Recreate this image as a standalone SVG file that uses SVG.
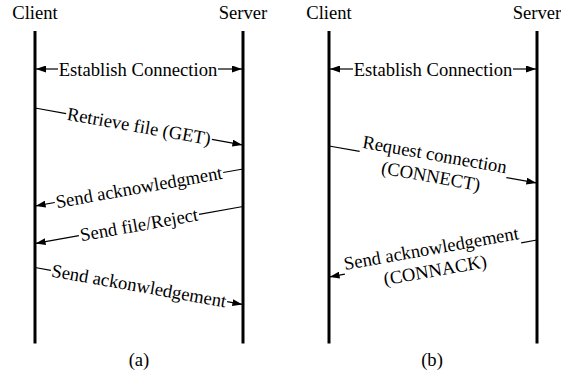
<svg xmlns="http://www.w3.org/2000/svg" width="561" height="377" viewBox="0 0 561 377" font-family="'Liberation Serif', 'DejaVu Serif', serif">
<style>
text{font-family:'Liberation Serif','DejaVu Serif',serif;font-size:18.6px;fill:#000;text-anchor:middle}
.life{stroke:#000;stroke-width:3;fill:none}
.msg{stroke:#000;stroke-width:1.2;fill:none}
.arr{marker-end:url(#ah)}
</style>
<defs>
<marker id="ah" markerUnits="userSpaceOnUse" markerWidth="10" markerHeight="7" refX="10" refY="3.5" orient="auto">
<path d="M0,0 L10,3.5 L0,7 z" fill="#000"/>
</marker>
</defs>
<rect width="561" height="377" fill="#fff"/>
<g id="client-a">
<text x="35" y="19">Client</text>
<line class="life" x1="35" y1="31" x2="35" y2="343.5"/>
</g>
<g id="server-a">
<text x="243" y="19">Server</text>
<line class="life" x1="243" y1="31" x2="243" y2="343.5"/>
</g>
<g id="client-b">
<text x="329" y="19">Client</text>
<line class="life" x1="329" y1="31" x2="329" y2="343.5"/>
</g>
<g id="server-b">
<text x="537" y="19">Server</text>
<line class="life" x1="537" y1="31" x2="537" y2="343.5"/>
</g>
<g id="connectors">
<g id="est-a">
<line class="msg arr" x1="58" y1="69" x2="36" y2="69"/>
<line class="msg arr" x1="218" y1="69" x2="242" y2="69"/>
<text x="138" y="75.5">Establish Connection</text>
</g>
<g id="get" transform="translate(139,126.5) rotate(10.09)">
<line class="msg" x1="-105.6" y1="0" x2="-74" y2="0"/>
<line class="msg arr" x1="74" y1="0" x2="105" y2="0"/>
<text x="0" y="6">Retrieve file (GET)</text>
</g>
<g id="ack-a" transform="translate(139,187.5) rotate(-10.09)">
<line class="msg" x1="105.6" y1="0" x2="85.5" y2="0"/>
<line class="msg arr" x1="-85.5" y1="0" x2="-105" y2="0"/>
<text x="0" y="6">Send acknowledgment</text>
</g>
<g id="file" transform="translate(139,225) rotate(-10.09)">
<line class="msg" x1="105.6" y1="0" x2="61" y2="0"/>
<line class="msg arr" x1="-61" y1="0" x2="-105" y2="0"/>
<text x="0" y="6">Send file/Reject</text>
</g>
<g id="ack2-a" transform="translate(139,286) rotate(10.09)">
<line class="msg" x1="-105.6" y1="0" x2="-89.5" y2="0"/>
<line class="msg arr" x1="89.5" y1="0" x2="105" y2="0"/>
<text x="0" y="6">Send ackonwledgement</text>
</g>
<g id="est-b">
<line class="msg arr" x1="353" y1="69" x2="330" y2="69"/>
<line class="msg arr" x1="513" y1="69" x2="536" y2="69"/>
<text x="433" y="75.5">Establish Connection</text>
</g>
<g id="connect" transform="translate(433,164.5) rotate(10.09)">
<line class="msg" x1="-105.6" y1="0" x2="-74.5" y2="0"/>
<line class="msg arr" x1="74.5" y1="0" x2="105" y2="0"/>
<text x="0" y="-4">Request connection</text>
<text x="0" y="18">(CONNECT)</text>
</g>
<g id="connack" transform="translate(433,258.5) rotate(-10.09)">
<line class="msg" x1="105.6" y1="0" x2="89.5" y2="0"/>
<line class="msg arr" x1="-89.5" y1="0" x2="-105" y2="0"/>
<text x="0" y="-4">Send acknowledgement</text>
<text x="0" y="18">(CONNACK)</text>
</g>
</g>
<text x="139" y="366">(a)</text>
<text x="432" y="366">(b)</text>
</svg>
